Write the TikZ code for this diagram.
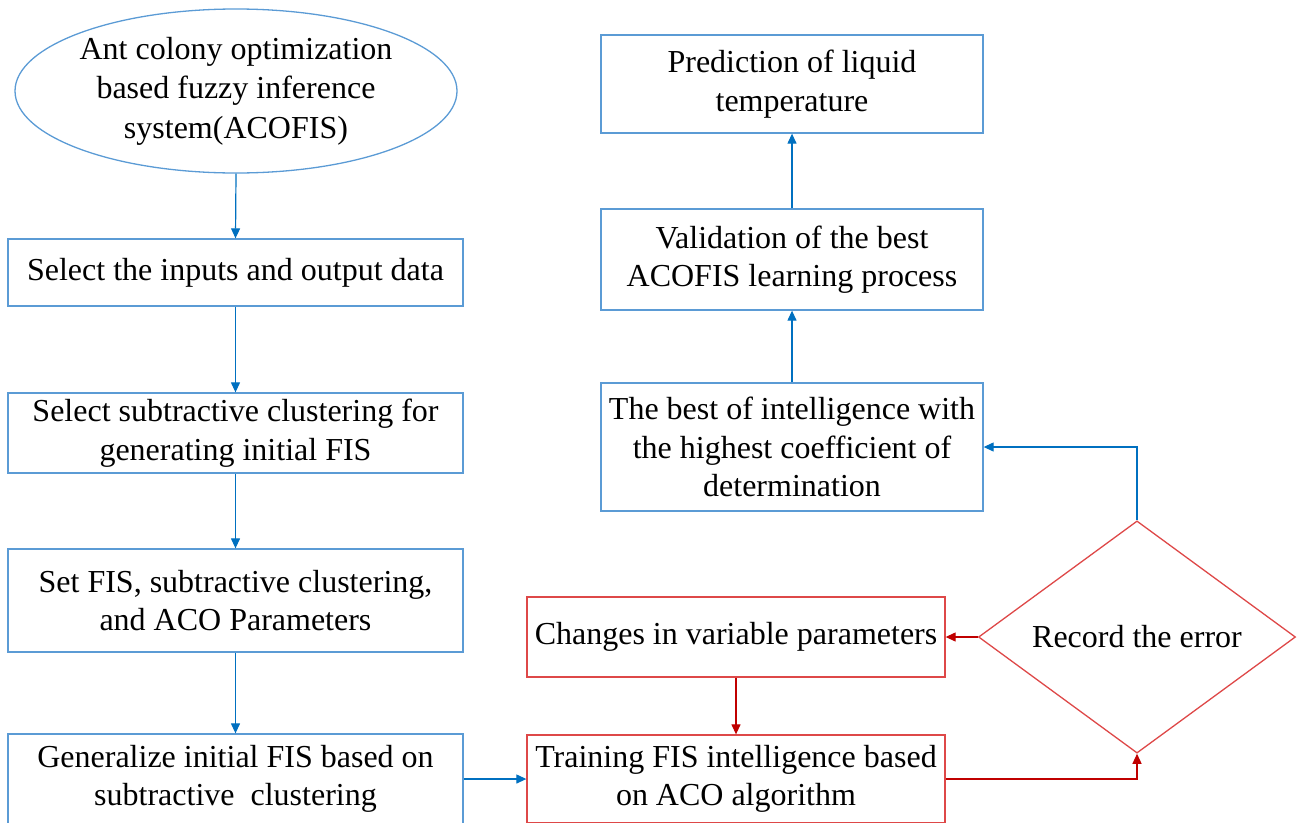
\documentclass[tikz,border=0pt]{standalone}
\usepackage{fontspec}
\setmainfont{Liberation Serif}
\usetikzlibrary{shapes.geometric,arrows.meta}
\definecolor{boxblue}{RGB}{91,155,213}
\definecolor{arrowblue}{RGB}{0,112,192}
\definecolor{boxred}{RGB}{222,72,72}
\definecolor{arrowred}{RGB}{192,0,0}

\begin{document}
\begin{tikzpicture}[
  x=1pt, y=-1pt,
  box/.style={rectangle, draw, line width=1.3pt, align=center, inner sep=0pt,
              font=\fontsize{32}{38.5}\selectfont},
  left_box/.style={box, draw=boxblue, minimum width=455pt},
  right_box/.style={box, draw=boxblue, minimum width=382pt},
  loop_box/.style={box, draw=boxred, minimum width=418pt},
  start_oval/.style={ellipse, draw=boxblue, line width=1.3pt, align=center,
                     inner sep=-6pt, minimum width=442pt, minimum height=164pt,
                     font=\fontsize{32}{39.5}\selectfont},
  decision/.style={diamond, draw=boxred, line width=1.3pt, inner sep=0pt,
                   minimum width=317pt, minimum height=225pt,
                   font=\fontsize{32}{38.5}\selectfont},
  arrow/.style={-{Triangle[length=10pt,width=9pt]}, line width=1.2pt},
  blue_arrow/.style={arrow, draw=arrowblue},
  red_arrow/.style={arrow, draw=arrowred}
]
  \useasboundingbox (0,0) rectangle (1300,822);

  % left column
  \node[start_oval] (acofis) at (236, 91)
    {Ant colony optimization\\based fuzzy inference\\system(ACOFIS)};
  \node[left_box, minimum height=67pt] (inputs) at (235.5, 272.5)
    {Select the inputs and output data};
  \node[left_box, minimum height=80pt] (subclust) at (235.5, 433)
    {Select subtractive clustering for\\generating initial FIS};
  \node[left_box, minimum height=103pt] (params) at (235.5, 600.5)
    {Set FIS, subtractive clustering,\\and ACO Parameters};
  \node[left_box, minimum height=90pt] (generalize) at (235.5, 779)
    {Generalize initial FIS based on\\subtractive~~clustering};

  % training loop
  \node[loop_box, minimum height=88pt] (training) at (736, 779)
    {Training FIS intelligence based\\on ACO algorithm};
  \node[loop_box, minimum height=80pt] (changes) at (736, 637)
    {Changes in variable parameters};
  \node[decision] (record) at (1137, 637) {Record the error};

  % right column
  \node[right_box, minimum height=128pt] (best) at (792, 447)
    {The best of intelligence with\\the highest coefficient of\\determination};
  \node[right_box, minimum height=101pt] (valid) at (792, 259.5)
    {Validation of the best\\ACOFIS learning process};
  \node[right_box, minimum height=98pt] (predict) at (792, 84)
    {Prediction of liquid\\temperature};

  \draw[blue_arrow] (acofis.south) -- (inputs.north);
  \draw[blue_arrow] (inputs.south) -- (subclust.north);
  \draw[blue_arrow] (subclust.south) -- (params.north);
  \draw[blue_arrow] (params.south) -- (generalize.north);
  \draw[blue_arrow] (generalize.east) -- (training.west);

  \draw[red_arrow] (training.east) -| (record.south);
  \draw[red_arrow] (record.west) -- (changes.east);
  \draw[red_arrow] (changes.south) -- (training.north);

  \draw[blue_arrow] (record.north) |- (best.east);
  \draw[blue_arrow] (best.north) -- (valid.south);
  \draw[blue_arrow] (valid.north) -- (predict.south);
\end{tikzpicture}
\end{document}
